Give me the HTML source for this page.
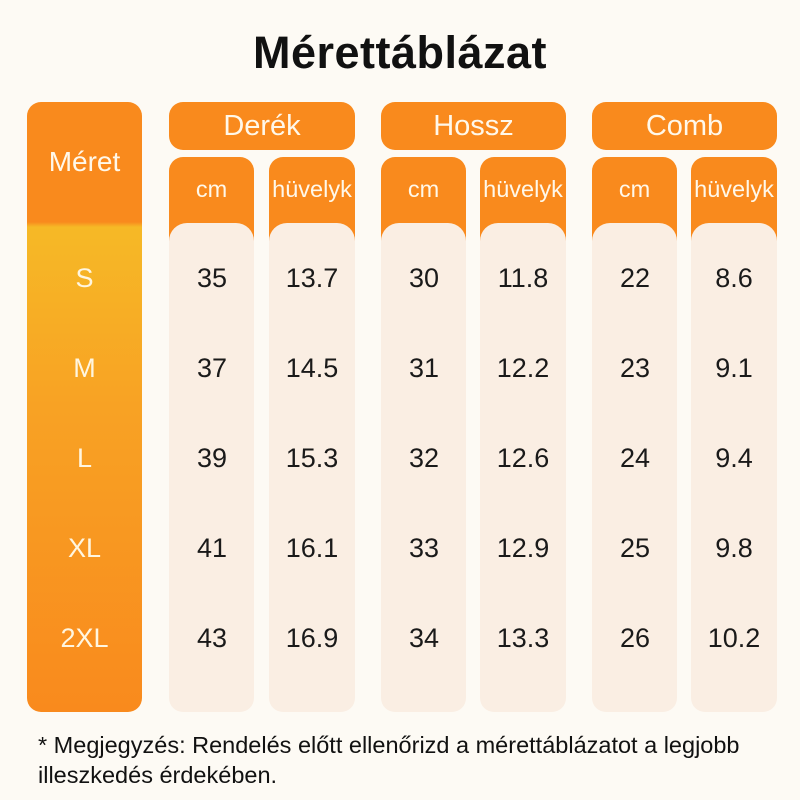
<!DOCTYPE html>
<html><head><meta charset="utf-8"><style>
*{margin:0;padding:0;box-sizing:border-box}
body{width:800px;height:800px;background:#fdfaf4;font-family:"Liberation Sans",sans-serif;position:relative;overflow:hidden}
.a{position:absolute;display:flex;align-items:center;justify-content:center;white-space:nowrap}
.or{background:#f98a1d;color:#fff8ea}
.gh{border-radius:14px;font-size:29px;height:48px;top:102px}
.sh{border-radius:14px 14px 0 0;font-size:23.5px;top:157px;height:90px;align-items:flex-start;padding-top:19px}
.col{top:223px;height:489px;background:#faeee3;border-radius:18px 18px 14px 14px}
.v{font-size:27px;color:#1a1a1a;width:86px}
.s{font-size:27px;color:#fff6e0;width:115px;left:27px}
</style></head><body>
<div class="a" style="left:0;width:800px;top:26px;height:54px;font-size:45px;letter-spacing:0.5px;font-weight:bold;color:#111">Mérettáblázat</div>
<div class="a" style="left:27px;top:102px;width:115px;height:610px;border-radius:14px;background:linear-gradient(#f98a1d 0,#f98a1d 120px,#f6b926 125px,#f8a224 50%,#f98a1d 100%)"></div>
<div class="a" style="left:27px;top:102px;width:115px;height:120px;font-size:28px;color:#fff8ea">Méret</div>
<div class="a or gh" style="left:169px;width:186px">Derék</div>
<div class="a or gh" style="left:381px;width:185px">Hossz</div>
<div class="a or gh" style="left:592px;width:185px">Comb</div>
<div class="a or sh" style="left:169px;width:85px">cm</div>
<div class="a or sh" style="left:269px;width:86px">hüvelyk</div>
<div class="a or sh" style="left:381px;width:85px">cm</div>
<div class="a or sh" style="left:480px;width:86px">hüvelyk</div>
<div class="a or sh" style="left:592px;width:85px">cm</div>
<div class="a or sh" style="left:691px;width:86px">hüvelyk</div>
<div class="a col" style="left:169px;width:85px"></div>
<div class="a col" style="left:269px;width:86px"></div>
<div class="a col" style="left:381px;width:85px"></div>
<div class="a col" style="left:480px;width:86px"></div>
<div class="a col" style="left:592px;width:85px"></div>
<div class="a col" style="left:691px;width:86px"></div>
<div id="d"></div>
<div style="position:absolute;left:38px;top:730px;font-size:23.5px;line-height:30px;color:#111;width:780px;white-space:nowrap">* Megjegyzés: Rendelés előtt ellenőrizd a mérettáblázatot a legjobb<br>illeszkedés érdekében.</div>
<script>
var rows=[["S",35,"13.7",30,"11.8",22,"8.6"],["M",37,"14.5",31,"12.2",23,"9.1"],["L",39,"15.3",32,"12.6",24,"9.4"],["XL",41,"16.1",33,"12.9",25,"9.8"],["2XL",43,"16.9",34,"13.3",26,"10.2"]];
var xs=[169,269,381,480,592,691],h="";
rows.forEach(function(r,i){var y=278+i*90-20;
h+='<div class="a s" style="top:'+y+'px;height:40px">'+r[0]+'</div>';
for(var j=0;j<6;j++)h+='<div class="a v" style="left:'+xs[j]+'px;top:'+y+'px;height:40px">'+r[j+1]+'</div>';});
document.getElementById('d').innerHTML=h;
</script>
</body></html>
